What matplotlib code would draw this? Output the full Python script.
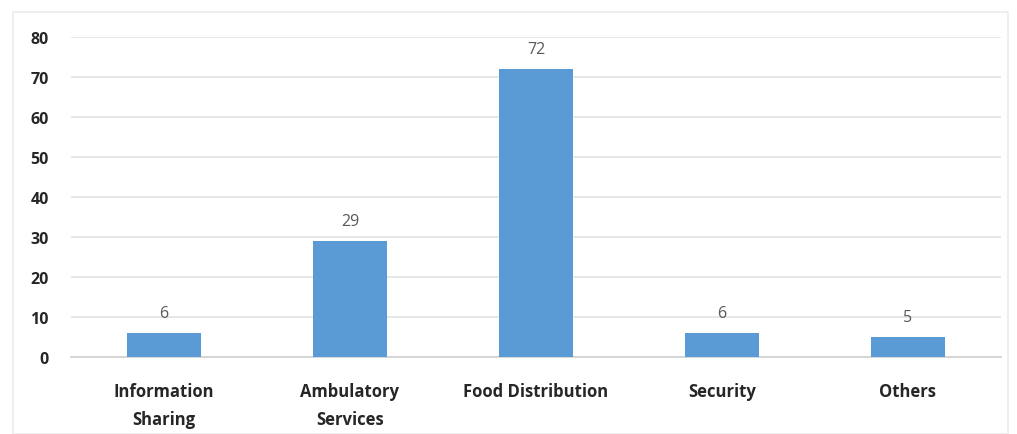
import matplotlib.pyplot as plt
from matplotlib.patches import Rectangle

categories = ['Information\nSharing', 'Ambulatory\nServices', 'Food Distribution', 'Security', 'Others']
values = [6, 29, 72, 6, 5]
yticks = [0, 10, 20, 30, 40, 50, 60, 70, 80]

fig = plt.figure(figsize=(10.17, 4.35), dpi=100)
ax = fig.add_axes([71 / 1017, 77 / 435, 930 / 1017, 320 / 435])

x = range(len(categories))
bars = ax.bar(x, values, width=0.4, color='#5B9BD5', zorder=3)

# value labels above bars
for b, v in zip(bars, values):
    ax.text(b.get_x() + b.get_width() / 2, v + 3, str(v), ha='center', va='bottom',
            fontsize=11.5, color='#595959', family='Open Sans')

ax.set_xlim(-0.5, len(categories) - 0.5)
ax.set_ylim(0, 80)
ax.set_yticks(yticks)
ax.set_yticklabels([str(t) for t in yticks], fontsize=11.5, fontweight='bold',
                   color='#262626', family='Open Sans')
ax.set_xticks(list(x))
ax.set_xticklabels(categories, fontsize=12, fontweight='bold', color='#262626',
                   family='Open Sans', linespacing=1.7, va='top')
ax.tick_params(axis='both', length=0)
ax.tick_params(axis='y', pad=16)
ax.tick_params(axis='x', pad=18)

ax.grid(axis='y', color='#E3E3E3', linewidth=1.2, zorder=0)
for s in ['top', 'right', 'left']:
    ax.spines[s].set_visible(False)
ax.spines['bottom'].set_color('#D0D0D0')
ax.spines['bottom'].set_linewidth(1.2)

# faint frame around the chart
fig.patches.append(Rectangle((13 / 1017, 0.0), 995 / 1017, 422 / 435, transform=fig.transFigure,
                             fill=False, edgecolor='#EBEBEB', linewidth=1.2))

fig.savefig('out.png', dpi=100)
